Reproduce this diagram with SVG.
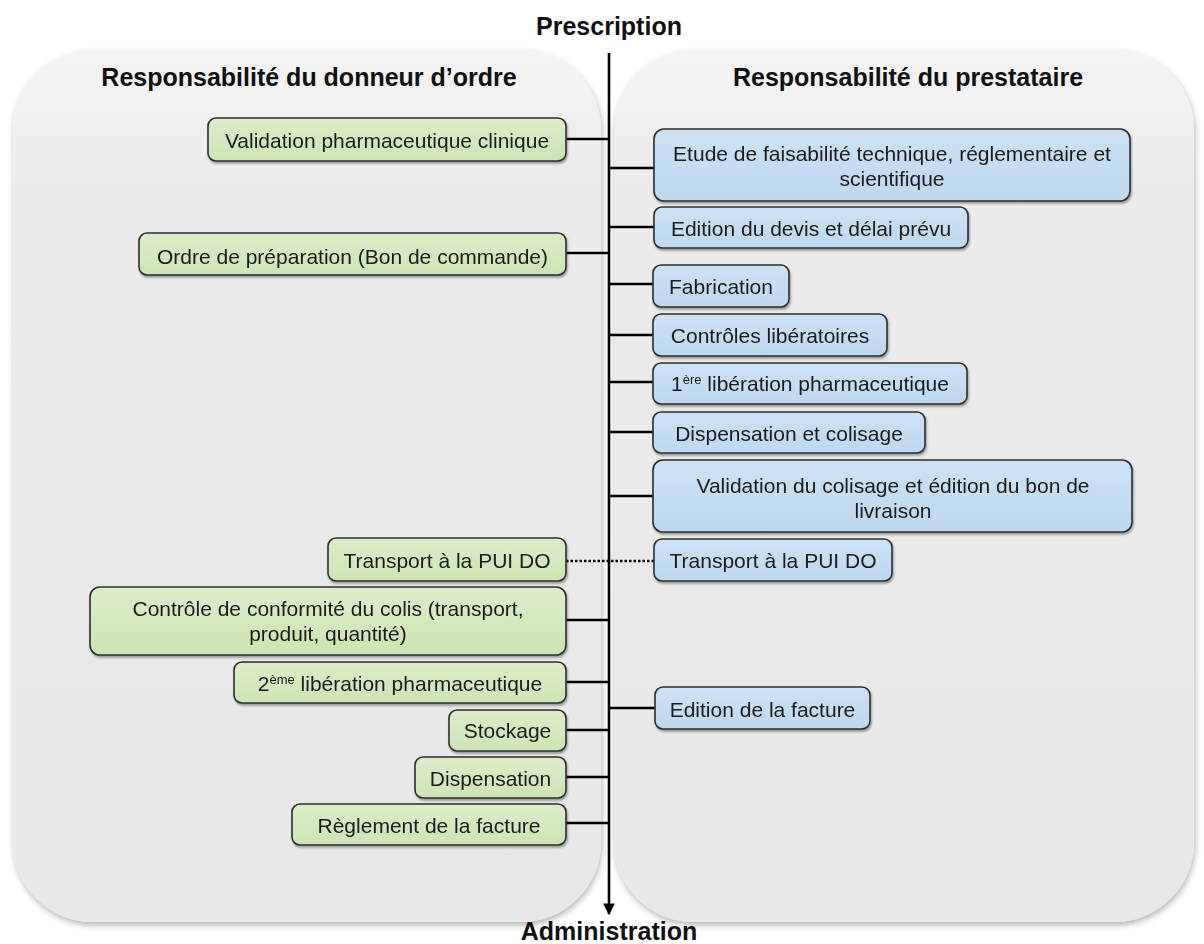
<svg xmlns="http://www.w3.org/2000/svg" width="1204" height="944" viewBox="0 0 1204 944">
<style>
.hdr{font-family:"Liberation Sans",Arial,sans-serif;font-weight:bold;font-size:25px;fill:#111;text-anchor:middle}
.t{font-family:"Liberation Sans",Arial,sans-serif;font-size:21px;fill:#1a1a1a;text-anchor:middle}
.g{fill:url(#gg);stroke:#2e2e2e;stroke-width:1.6}
.b{fill:url(#bg);stroke:#2e2e2e;stroke-width:1.6}
.c{stroke:#000;stroke-width:2.6;fill:none}
.d{stroke:#000;stroke-width:2.4;fill:none;stroke-dasharray:2.5 2}
.sup{font-size:13px}
</style>
<defs>
<linearGradient id="pg" x1="0" y1="0" x2="0" y2="1">
<stop offset="0" stop-color="#f4f4f4"/>
<stop offset="0.15" stop-color="#ececec"/>
<stop offset="1" stop-color="#e8e8e8"/>
</linearGradient>
<linearGradient id="gg" x1="0" y1="0" x2="0" y2="1">
<stop offset="0" stop-color="#dcedc9"/>
<stop offset="1" stop-color="#cde4b4"/>
</linearGradient>
<linearGradient id="bg" x1="0" y1="0" x2="0" y2="1">
<stop offset="0" stop-color="#cde2f4"/>
<stop offset="1" stop-color="#bed8ef"/>
</linearGradient>
<filter id="ps" x="-5%" y="-5%" width="110%" height="110%">
<feDropShadow dx="1" dy="3" stdDeviation="3" flood-color="#000" flood-opacity="0.3"/>
</filter>
<filter id="bs" x="-5%" y="-10%" width="110%" height="130%">
<feDropShadow dx="1" dy="2" stdDeviation="1.2" flood-color="#000" flood-opacity="0.35"/>
</filter>
<marker id="arr" viewBox="0 0 10 10" refX="9" refY="5" markerWidth="4.5" markerHeight="4.5" orient="auto" markerUnits="strokeWidth">
<path d="M0,0 L10,5 L0,10 z" fill="#000"/>
</marker>
</defs>
<rect width="1204" height="944" fill="#fff"/>
<g id="panels">
<rect id="panel-left" x="13" y="50" width="588" height="872" rx="80" ry="80" fill="url(#pg)" filter="url(#ps)"/>
<rect id="panel-right" x="614" y="50" width="580" height="872" rx="80" ry="80" fill="url(#pg)" filter="url(#ps)"/>
</g>
<g id="titles">
<text class="hdr" x="609" y="35">Prescription</text>
<text class="hdr" x="609" y="940">Administration</text>
<text class="hdr" x="309" y="86">Responsabilité du donneur d’ordre</text>
<text class="hdr" x="908" y="86">Responsabilité du prestataire</text>
</g>
<g id="connectors">
<line class="c" x1="609" y1="53" x2="609" y2="914" stroke-width="3" marker-end="url(#arr)"/>
<line class="c" x1="566" y1="139" x2="609" y2="139"/>
<line class="c" x1="566" y1="253" x2="609" y2="253"/>
<line class="d" x1="566" y1="561" x2="654" y2="561"/>
<line class="c" x1="566" y1="620" x2="609" y2="620"/>
<line class="c" x1="566" y1="682" x2="609" y2="682"/>
<line class="c" x1="566" y1="730" x2="609" y2="730"/>
<line class="c" x1="566" y1="777" x2="609" y2="777"/>
<line class="c" x1="566" y1="823" x2="609" y2="823"/>
<line class="c" x1="609" y1="168" x2="654" y2="168"/>
<line class="c" x1="609" y1="227" x2="654" y2="227"/>
<line class="c" x1="609" y1="284" x2="653" y2="284"/>
<line class="c" x1="609" y1="335" x2="653" y2="335"/>
<line class="c" x1="609" y1="382" x2="653" y2="382"/>
<line class="c" x1="609" y1="432" x2="653" y2="432"/>
<line class="c" x1="609" y1="496" x2="653" y2="496"/>
<line class="c" x1="609" y1="708" x2="655" y2="708"/>
</g>
<g id="g1" filter="url(#bs)"><rect class="g" x="208" y="118" width="358" height="43" rx="8"/><text class="t" x="387" y="147.5">Validation pharmaceutique clinique</text></g>
<g id="g2" filter="url(#bs)"><rect class="g" x="139" y="233" width="427" height="42" rx="8"/><text class="t" x="352.5" y="263.5">Ordre de préparation (Bon de commande)</text></g>
<g id="g3" filter="url(#bs)"><rect class="g" x="328" y="538" width="238" height="43" rx="8"/><text class="t" x="447" y="567.5">Transport à la PUI DO</text></g>
<g id="g4" filter="url(#bs)"><rect class="g" x="90" y="587" width="476" height="68" rx="10"/><text class="t" x="328" y="615.5">Contrôle de conformité du colis (transport,</text><text class="t" x="328" y="640.5">produit, quantité)</text></g>
<g id="g5" filter="url(#bs)"><rect class="g" x="234" y="662" width="332" height="41" rx="8"/><text class="t" x="400" y="690.5">2<tspan class="sup" dy="-7">ème</tspan><tspan dy="7"> libération pharmaceutique</tspan></text></g>
<g id="g6" filter="url(#bs)"><rect class="g" x="449" y="710" width="117" height="41" rx="8"/><text class="t" x="507.5" y="737.5">Stockage</text></g>
<g id="g7" filter="url(#bs)"><rect class="g" x="415" y="757" width="151" height="41" rx="8"/><text class="t" x="490.5" y="785.5">Dispensation</text></g>
<g id="g8" filter="url(#bs)"><rect class="g" x="292" y="804" width="274" height="41" rx="8"/><text class="t" x="429" y="832.5">Règlement de la facture</text></g>
<g id="b1" filter="url(#bs)"><rect class="b" x="654" y="129" width="476" height="72" rx="10"/><text class="t" x="892" y="160.5">Etude de faisabilité technique, réglementaire et</text><text class="t" x="892" y="185.5">scientifique</text></g>
<g id="b2" filter="url(#bs)"><rect class="b" x="654" y="207" width="314" height="41" rx="8"/><text class="t" x="811" y="235.5">Edition du devis et délai prévu</text></g>
<g id="b3" filter="url(#bs)"><rect class="b" x="653" y="265" width="136" height="42" rx="8"/><text class="t" x="721" y="293.5">Fabrication</text></g>
<g id="b4" filter="url(#bs)"><rect class="b" x="653" y="314" width="234" height="42" rx="8"/><text class="t" x="770" y="342.5">Contrôles libératoires</text></g>
<g id="b5" filter="url(#bs)"><rect class="b" x="653" y="363" width="314" height="41" rx="8"/><text class="t" x="810" y="390.5">1<tspan class="sup" dy="-7">ère</tspan><tspan dy="7"> libération pharmaceutique</tspan></text></g>
<g id="b6" filter="url(#bs)"><rect class="b" x="653" y="412" width="272" height="41" rx="8"/><text class="t" x="789" y="440.5">Dispensation et colisage</text></g>
<g id="b7" filter="url(#bs)"><rect class="b" x="653" y="460" width="479" height="72" rx="10"/><text class="t" x="893" y="492.5">Validation du colisage et édition du bon de</text><text class="t" x="893" y="517.5">livraison</text></g>
<g id="b8" filter="url(#bs)"><rect class="b" x="654" y="539" width="238" height="42" rx="8"/><text class="t" x="773" y="567.5">Transport à la PUI DO</text></g>
<g id="b9" filter="url(#bs)"><rect class="b" x="655" y="687" width="215" height="42" rx="8"/><text class="t" x="762.5" y="716.5">Edition de la facture</text></g>
</svg>
